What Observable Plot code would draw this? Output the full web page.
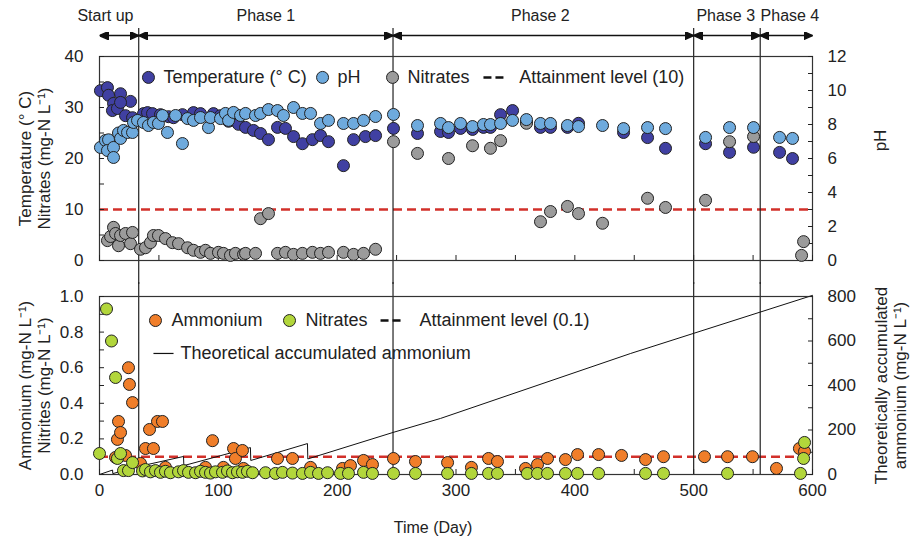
<!DOCTYPE html>
<html>
<head>
<meta charset="utf-8">
<script src="https://cdn.jsdelivr.net/npm/d3@7"></script>
<script src="https://cdn.jsdelivr.net/npm/@observablehq/plot@0.6"></script>
<style>
  html, body { margin: 0; padding: 0; background: #fff; }
  #chart { width: 911px; height: 547px; font-family: "Liberation Sans", Arial, sans-serif; }
  #chart svg { display: block; }
</style>
</head>
<body>
<div id="chart"></div>
<script>
// ---------- phases ----------
const phaseBounds = [0, 33, 247, 500, 556, 600];
const phaseNames = ["Start up", "Phase 1", "Phase 2", "Phase 3", "Phase 4"];
const phaseLabelDays = [5, 140, 371, 527, 581];

// ---------- top panel: temperature (°C) ----------
const tempDays = [0.8,6.7,7.6,11.8,17.7,26.1,10.9,15.1,17.7,21.9,27.8,
  37,40.4,44.6,51.3,58.1,62.3,69.8,79.1,85,95.9,101.8,108.6,112.8,117,
  122.9,129.6,135.5,142.2,149.8,156.5,163.3,170.8,179.2,186,192.7,205.3,213.8,223.8,232.3,247.4,
  267.6,287,293.7,303.8,313.9,323.1,329,337.5,347.6,359.3,371.1,379.5,393.8,403.1,441,461.2,476.3,
  510,530.2,550.4,
  572.3,583.2];
const tempValues = [33.3,33.9,32.4,30.8,32.7,31.2,29.4,29.8,31,28.4,28,
  28.8,29,28.8,28.6,28.2,28,28.6,29,28.8,28.8,28.4,27.3,27.5,26.7,
  26.1,25.5,24.9,23.7,26.1,25.9,24.3,22.9,23.7,24.5,23.3,18.6,23.7,24.3,24.5,25.9,
  24.9,25.3,25.1,25.9,25.7,26.1,26.1,28.6,29.4,27.1,26.1,26.1,26.1,26.9,25.1,24.1,22,
  22.9,21.2,22.2,
  21.2,20];

// ---------- top panel: pH ----------
const phDays = [0.8,5,7.6,6.7,11.8,11.8,16,17.7,20.2,23.6,27.8,28.6,32,
  37,41.2,45.4,49.6,53,57.2,64,69.8,74.1,79.1,85,91.7,93.4,101.8,106,108.6,112.8,118.7,
  122.9,131.3,135.5,142.2,149.8,154.8,163.3,170.8,177.6,186,192.7,205.3,213.8,222.2,232.3,247.4,
  267.6,287,293.7,303.8,313.9,323.1,329,337.5,347.6,359.3,371.1,379.5,393.8,403.1,423.3,441,461.2,476.3,
  510,530.2,550.4,
  572.3,583.2];
const phValues = [6.65,7.06,7.1,6.47,6.65,6.06,7.5,7.18,7.65,7.53,7.53,8.12,8.24,
  8.12,7.94,8.12,8.06,8.53,7.53,8.53,6.88,8.35,8.24,8.41,7.82,8.41,8.35,8.65,8.24,8.71,8.53,
  8.65,8.53,8.65,8.88,8.82,8.53,9,8.65,8.65,8.06,8.24,8.06,8.06,8.24,8.47,8.59,
  7.94,8.06,7.82,8.06,7.88,8,8,8.06,8.24,8.29,8.06,8.06,7.94,7.88,7.94,7.76,7.82,7.76,
  7.24,7.82,7.82,
  7.24,7.18];

// ---------- top panel: nitrates (mg-N/L) ----------
const nitrateDays = [6.7,9.3,11.8,13.5,16,17.7,21.9,26.1,27.8,
  34.5,38.7,42.9,45.4,49.6,55.5,61.4,66.5,74.1,79.1,85,89.2,93.4,100.1,104.3,110.2,114.4,121.2,
  122.9,131.3,135.5,142.2,149.8,156.5,163.3,170.8,179.2,186,192.7,205.3,213.8,222.2,232.3,247.4,
  267.6,293.7,313.9,329,337.5,359.3,371.1,379.5,393.8,403.1,423.3,461.2,476.3,
  510,530.2,550.4,
  590.8,592.5];
const nitrateValues = [3.9,4.7,6.5,5.3,2.9,4.9,5.3,3.3,5.5,
  2.2,2.5,3.5,4.9,4.9,4.3,3.5,3.3,2.5,2,1.6,2,1.4,1.6,1.4,1,1.4,1.2,
  1.4,1.4,8.2,9.2,1.4,1.6,1.2,1.4,1.6,1.4,1.6,1.6,1.2,1.4,2.2,23.3,
  21,20,22.5,22,23.5,26.9,7.6,9.6,10.6,9.2,7.3,12.2,10.4,
  11.8,23.3,24.3,
  1,3.7];

// ---------- bottom panel: ammonium (mg-N/L) ----------
const ammoniumDays = [13.5,15.1,16,17.7,21.9,24.4,25.2,27.8,
  34.5,38.7,42.1,45.4,48.8,53,55.5,89.2,95.1,104.3,112.8,114.4,120.3,121.2,
  149.8,162.4,177.6,204.5,211.2,222.2,229.7,247.4,265.9,292.9,313,327.4,334.9,358.5,368.6,377,
  392.1,402.3,420,439.3,459.5,474.6,509.1,528.5,549.5,569.7,589,593.3];
const ammoniumValues = [0.096,0.197,0.298,0.236,0.107,0.6,0.506,0.404,
  0.062,0.146,0.253,0.146,0.298,0.298,0.04,0.04,0.19,0.04,0.146,0.09,0.135,0.034,
  0.09,0.09,0.04,0.034,0.05,0.079,0.056,0.09,0.073,0.067,0.04,0.09,0.073,0.034,0.056,0.09,
  0.084,0.112,0.112,0.107,0.084,0.1,0.1,0.1,0.1,0.034,0.146,0.13];

// ---------- bottom panel: nitrites (mg-N/L) ----------
const nitriteDays = [0,5.9,10.1,13.5,15.1,17.7,20.2,24.4,27.8,
  36.2,38.7,42.9,47.1,51.3,55.5,59.7,66.5,70.7,74.9,80.8,85,89.2,93.4,97.6,103.5,107.7,111.9,116.1,120.3,124.5,128.8,
  139.7,148.1,154,162.4,170.8,177.6,184.3,191.9,202.8,209.5,222.2,229.7,247.4,265.9,
  292.9,313,327.4,334.9,360,368.6,377,392.1,402.3,420,459.5,474.6,528.5,589.9,592.5,593.3];
const nitriteValues = [0.118,0.93,0.75,0.545,0.09,0.118,0.022,0.022,0.067,
  0.02,0.028,0.015,0.022,0.012,0.018,0.01,0.015,0.022,0.012,0.01,0.018,0.012,0.008,0.015,0.012,0.02,0.01,0.015,0.012,0.018,0.01,
  0.01,0.006,0.012,0.008,0.006,0.012,0.006,0.01,0.006,0.006,0.012,0.006,0.006,0.006,
  0.006,0.006,0.006,0.006,0.006,0.006,0.006,0.006,0.006,0.006,0.006,0.006,0.006,0.006,0.09,0.18];

// ---------- theoretical accumulated ammonium (mg-N/L, right axis) ----------
const theoDays = [0, 11, 11.2, 33, 70.7, 71, 127, 127.3, 175, 175.3, 247, 287, 447, 600];
const theoValues = [0, 20, 4, 36, 81, 40, 121, 63, 139, 70, 189, 252, 544, 805];

// ---------- ticks ----------
const topLeftTicks = [0, 10, 20, 30, 40];
const phTicks = [0, 2, 4, 6, 8, 10, 12];
const botLeftTicks = [0, 0.2, 0.4, 0.6, 0.8, 1.0];
const accTicks = [0, 200, 400, 600, 800];
const dayTicks = [0, 100, 200, 300, 400, 500, 600];

// ---------- styling ----------
const FONT = '"Liberation Sans", Arial, sans-serif';
const DARK = "#4040a2", LIGHT = "#6eaadd", GRAY = "#9b9b9b";
const ORANGE = "#f07e2a", GREEN = "#b2d63b", RED = "#d2302a";
const INK = "#222";
const PH = 40 / 12;     // pH -> left axis units
const ACC = 1 / 800;    // accumulated ammonium -> left axis units

const zip = (xs, ys) => xs.map((x, i) => ({x, y: ys[i]}));
const tempData = zip(tempDays, tempValues);
const phData = zip(phDays, phValues.map(v => v * PH));
const nitrateData = zip(nitrateDays, nitrateValues);
const ammoniumData = zip(ammoniumDays, ammoniumValues);
const nitriteData = zip(nitriteDays, nitriteValues);
const theoData = zip(theoDays, theoValues.map(v => v * ACC));
const arrows = phaseNames.map((n, i) => ({a: phaseBounds[i], b: phaseBounds[i + 1]}));

function solidArrow(color, context) {
  const ns = "http://www.w3.org/2000/svg";
  const doc = (context && context.document) || document;
  const m = doc.createElementNS(ns, "marker");
  m.setAttribute("viewBox", "-9 -4 9 8");
  m.setAttribute("markerWidth", 9);
  m.setAttribute("markerHeight", 8);
  m.setAttribute("markerUnits", "userSpaceOnUse");
  m.setAttribute("orient", "auto-start-reverse");
  const p = doc.createElementNS(ns, "path");
  p.setAttribute("d", "M-9,-4L0,0L-9,4Z");
  p.setAttribute("fill", "#111");
  m.appendChild(p);
  return m;
}

const dotStyle = {r: 6, stroke: "#222", strokeWidth: 1};

function build(marker) {
  const topChart = Plot.plot({
    width: 911, height: 283,
    marginLeft: 99, marginRight: 99, marginTop: 56, marginBottom: 23,
    x: {domain: [0, 600]},
    y: {domain: [0, 40]},
    style: {fontFamily: FONT, fontSize: "17px", color: INK, background: "white", overflow: "visible"},
    marks: [
      Plot.ruleY([10], {stroke: RED, strokeWidth: 2.5, strokeDasharray: "9,5"}),
      Plot.ruleX(phaseBounds.slice(1, -1), {stroke: INK, strokeWidth: 1.2, insetTop: -28, insetBottom: -24}),
      Plot.link(arrows, {x1: "a", x2: "b", y1: () => 44.1, y2: () => 44.1, stroke: "#111", strokeWidth: 1.5, markerStart: marker, markerEnd: marker}),
      Plot.text(phaseNames, {x: (d, i) => phaseLabelDays[i], y: () => 48, fontSize: 16, fill: INK}),
      Plot.frame({stroke: "#333", strokeWidth: 1.2}),
      Plot.axisX(d3.range(0, 601, 50), {anchor: "bottom", tickSize: -5, tickFormat: () => "", label: null}),
      Plot.axisY(d3.range(0, 41, 5), {anchor: "left", tickSize: -5, tickFormat: () => "", label: null}),
      Plot.axisY(topLeftTicks, {anchor: "left", tickSize: 0, tickPadding: 16, label: null, fontSize: 17}),
      Plot.axisY(d3.range(0, 13, 1).map(v => v * PH), {anchor: "right", tickSize: -5, tickFormat: () => "", label: null}),
      Plot.axisY(phTicks.map(v => v * PH), {anchor: "right", tickSize: 0, tickPadding: 15, tickFormat: d => String(Math.round(d / PH)), label: null, fontSize: 17}),
      Plot.dot(tempData, {x: "x", y: "y", fill: DARK, ...dotStyle}),
      Plot.dot(nitrateData, {x: "x", y: "y", fill: GRAY, ...dotStyle}),
      Plot.dot(phData, {x: "x", y: "y", fill: LIGHT, ...dotStyle}),
      // legend
      Plot.dot([{x: 41.2, c: DARK}, {x: 187.7, c: LIGHT}, {x: 246.6, c: GRAY}], {x: "x", y: () => 35.9, fill: "c", ...dotStyle}),
      Plot.text([{x: 41.2, t: "Temperature (° C)"}, {x: 187.7, t: "pH"}, {x: 246.6, t: "Nitrates"}, {x: 340.6, t: "Attainment level (10)"}],
        {x: "x", y: () => 35.9, text: "t", dx: 15, textAnchor: "start", fontSize: 18, fill: INK}),
      Plot.link([{a: 323.1, b: 341.7}], {x1: "a", x2: "b", y1: () => 35.9, y2: () => 35.9, stroke: "#111", strokeWidth: 2.5, strokeDasharray: "8,4"}),
      // axis titles
      Plot.text(["Temperature (° C)\nNitrates (mg-N L⁻¹)"], {frameAnchor: "left", textAnchor: "middle", lineAnchor: "middle", rotate: -90, dx: -65, lineHeight: 1.12, fontSize: 17, fill: INK}),
      Plot.text(["pH"], {frameAnchor: "right", textAnchor: "middle", lineAnchor: "middle", rotate: -90, dx: 68, dy: -18, fontSize: 17, fill: INK})
    ]
  });

  const botChart = Plot.plot({
    width: 911, height: 264,
    marginLeft: 99, marginRight: 99, marginTop: 13, marginBottom: 73,
    x: {domain: [0, 600]},
    y: {domain: [0, 1]},
    style: {fontFamily: FONT, fontSize: "17px", color: INK, background: "white", overflow: "visible"},
    marks: [
      Plot.ruleY([0.1], {stroke: RED, strokeWidth: 2.5, strokeDasharray: "9,5"}),
      Plot.ruleX(phaseBounds.slice(1, -1), {stroke: INK, strokeWidth: 1.2, insetTop: -14}),
      Plot.line(theoData, {x: "x", y: "y", stroke: "#111", strokeWidth: 1}),
      Plot.frame({stroke: "#333", strokeWidth: 1.2}),
      Plot.axisX(d3.range(0, 601, 50), {anchor: "bottom", tickSize: -5, tickFormat: () => "", label: null}),
      Plot.axisX(dayTicks, {anchor: "bottom", tickSize: 0, tickPadding: 9, label: null, fontSize: 17}),
      Plot.axisY(d3.range(0, 11, 1).map(v => v / 10), {anchor: "left", tickSize: -5, tickFormat: () => "", label: null}),
      Plot.axisY(botLeftTicks, {anchor: "left", tickSize: 0, tickPadding: 16, tickFormat: d3.format(".1f"), label: null, fontSize: 17}),
      Plot.axisY(d3.range(0, 801, 100).map(v => v * ACC), {anchor: "right", tickSize: -5, tickFormat: () => "", label: null}),
      Plot.axisY(accTicks.map(v => v * ACC), {anchor: "right", tickSize: 0, tickPadding: 15, tickFormat: d => String(Math.round(d / ACC)), label: null, fontSize: 17}),
      Plot.dot(ammoniumData, {x: "x", y: "y", fill: ORANGE, ...dotStyle}),
      Plot.dot(nitriteData, {x: "x", y: "y", fill: GREEN, ...dotStyle}),
      // legend
      Plot.dot([{x: 47.1, c: ORANGE}, {x: 159.9, c: GREEN}], {x: "x", y: () => 0.865, fill: "c", ...dotStyle}),
      Plot.text([{x: 47.1, t: "Ammonium"}, {x: 159.9, t: "Nitrates"}, {x: 255.8, t: "Attainment level (0.1)"}],
        {x: "x", y: () => 0.865, text: "t", dx: 16, textAnchor: "start", fontSize: 18, fill: INK}),
      Plot.link([{a: 236.5, b: 255.8}], {x1: "a", x2: "b", y1: () => 0.865, y2: () => 0.865, stroke: "#111", strokeWidth: 2.5, strokeDasharray: "8,4"}),
      Plot.link([{a: 45.4, b: 62.3}], {x1: "a", x2: "b", y1: () => 0.68, y2: () => 0.68, stroke: "#111", strokeWidth: 1.2}),
      Plot.text(["Theoretical accumulated ammonium"], {x: () => 62.3, y: () => 0.68, dx: 7, textAnchor: "start", fontSize: 18, fill: INK}),
      // axis titles
      Plot.text(["Ammonium (mg-N L⁻¹)\nNitrites (mg-N L⁻¹)"], {frameAnchor: "left", textAnchor: "middle", lineAnchor: "middle", rotate: -90, dx: -65, lineHeight: 1.12, fontSize: 17, fill: INK}),
      Plot.text(["Theoretically accumulated\nammonium (mg-N L⁻¹)"], {frameAnchor: "right", textAnchor: "middle", lineAnchor: "middle", rotate: -90, dx: 78, lineHeight: 1.12, fontSize: 17, fill: INK}),
      Plot.text(["Time (Day)"], {frameAnchor: "bottom", textAnchor: "middle", lineAnchor: "middle", dy: 53, dx: -23, fontSize: 16, fill: INK})
    ]
  });
  return [topChart, botChart];
}

let charts;
try { charts = build(solidArrow); } catch (e) { charts = build("arrow"); }
const host = document.getElementById("chart");
charts.forEach(c => host.appendChild(c));
</script>
</body>
</html>
